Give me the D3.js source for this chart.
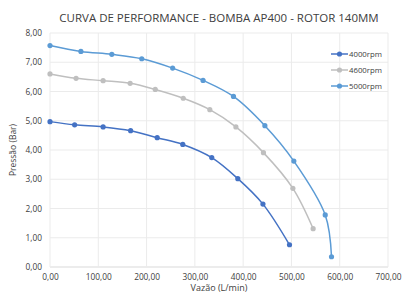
<!DOCTYPE html>
<html>
<head>
<meta charset="utf-8">
<script src="https://cdn.jsdelivr.net/npm/d3@7"></script>
<style>
  body { margin: 0; background: #fff; }
  svg { font-family: "Open Sans", sans-serif; }
</style>
</head>
<body>
<div id="chart"></div>
<script>
var width = 420;
var height = 299;
var margin = { top: 33, right: 32, bottom: 32, left: 50 };

// vazão (L/min) and pressão (Bar) per rotation
var vazao4000 = [0, 51, 110, 167, 222, 275, 335, 389, 441, 496];
var pressao4000 = [4.97, 4.86, 4.79, 4.66, 4.42, 4.19, 3.74, 3.02, 2.15, 0.76];
var vazao4600 = [0, 54, 110, 166, 218, 276, 331, 385, 442, 503, 545];
var pressao4600 = [6.60, 6.45, 6.37, 6.28, 6.07, 5.77, 5.38, 4.79, 3.91, 2.69, 1.31];
var vazao5000 = [0, 64, 128, 190, 254, 317, 380, 445, 505, 570, 583];
var pressao5000 = [7.57, 7.37, 7.27, 7.12, 6.80, 6.38, 5.83, 4.83, 3.62, 1.78, 0.35];

var seriesNames = ["4000rpm", "4600rpm", "5000rpm"];
var seriesColors = ["#4472c4", "#bfbfbf", "#5b9bd5"];
var xTicks = [0, 100, 200, 300, 400, 500, 600, 700];
var yTicks = [0, 1, 2, 3, 4, 5, 6, 7, 8];

var titleText = "CURVA DE PERFORMANCE - BOMBA AP400 - ROTOR 140MM";
var xTitle = "Vazão (L/min)";
var yTitle = "Pressão (Bar)";

var fmt = function (d) { return d3.format(".2f")(d).replace(".", ","); };

var series = [
    d3.zip(vazao4000, pressao4000),
    d3.zip(vazao4600, pressao4600),
    d3.zip(vazao5000, pressao5000)
];

var svg = d3.select("#chart").append("svg")
    .attr("width", width)
    .attr("height", height);

var x = d3.scaleLinear().domain([0, 700]).range([margin.left, width - margin.right]);
var y = d3.scaleLinear().domain([0, 8]).range([height - margin.bottom, margin.top]);

// gridlines
svg.append("g")
    .selectAll("line.h")
    .data(yTicks)
    .join("line")
    .attr("x1", x(0)).attr("x2", x(700))
    .attr("y1", function (d) { return y(d); })
    .attr("y2", function (d) { return y(d); })
    .attr("stroke", function (d) { return d === 0 ? "#d9d9d9" : "#ebebeb"; })
    .attr("stroke-width", 1);

svg.append("g")
    .selectAll("line.v")
    .data(xTicks)
    .join("line")
    .attr("y1", y(0)).attr("y2", y(8))
    .attr("x1", function (d) { return x(d); })
    .attr("x2", function (d) { return x(d); })
    .attr("stroke", "#ebebeb")
    .attr("stroke-width", 1);

// axes
var xAxis = svg.append("g")
    .attr("transform", "translate(0," + y(0) + ")")
    .call(d3.axisBottom(x).tickValues(xTicks).tickFormat(fmt).tickSize(0).tickPadding(7));
var yAxis = svg.append("g")
    .attr("transform", "translate(" + x(0) + ",0)")
    .call(d3.axisLeft(y).tickValues(yTicks).tickFormat(fmt).tickSize(0).tickPadding(8));
[xAxis, yAxis].forEach(function (a) {
    a.select(".domain").remove();
    a.selectAll("text").attr("font-size", 8.3).attr("fill", "#404040")
        .attr("font-family", "'Open Sans', sans-serif");
});

// lines
var line = d3.line()
    .x(function (d) { return x(d[0]); })
    .y(function (d) { return y(d[1]); })
    .curve(d3.curveCatmullRom.alpha(0.5));

series.forEach(function (s, i) {
    svg.append("path")
        .datum(s)
        .attr("d", line)
        .attr("fill", "none")
        .attr("stroke", seriesColors[i])
        .attr("stroke-width", 1.5);
    svg.append("g")
        .selectAll("circle")
        .data(s)
        .join("circle")
        .attr("cx", function (d) { return x(d[0]); })
        .attr("cy", function (d) { return y(d[1]); })
        .attr("r", 2.6)
        .attr("fill", seriesColors[i]);
});

// legend
var legend = svg.append("g").attr("transform", "translate(331,54)");
seriesNames.forEach(function (n, i) {
    var g = legend.append("g").attr("transform", "translate(0," + (i * 16) + ")");
    g.append("line").attr("x1", 0).attr("x2", 17).attr("y1", 0).attr("y2", 0)
        .attr("stroke", seriesColors[i]).attr("stroke-width", 1.5);
    g.append("circle").attr("cx", 8.5).attr("cy", 0).attr("r", 2.6).attr("fill", seriesColors[i]);
    g.append("text").attr("x", 18).attr("y", 2.8).attr("font-size", 7.8)
        .attr("fill", "#404040").text(n);
});

// titles
svg.append("text")
    .attr("x", 219).attr("y", 22)
    .attr("text-anchor", "middle")
    .attr("font-size", 11.5)
    .attr("fill", "#404040")
    .text(titleText);

svg.append("text")
    .attr("x", x(350)).attr("y", 291)
    .attr("text-anchor", "middle")
    .attr("font-size", 9)
    .attr("fill", "#404040")
    .text(xTitle);

svg.append("text")
    .attr("transform", "translate(16," + y(4) + ") rotate(-90)")
    .attr("text-anchor", "middle")
    .attr("font-size", 8.5)
    .attr("fill", "#404040")
    .text(yTitle);
</script>
</body>
</html>
